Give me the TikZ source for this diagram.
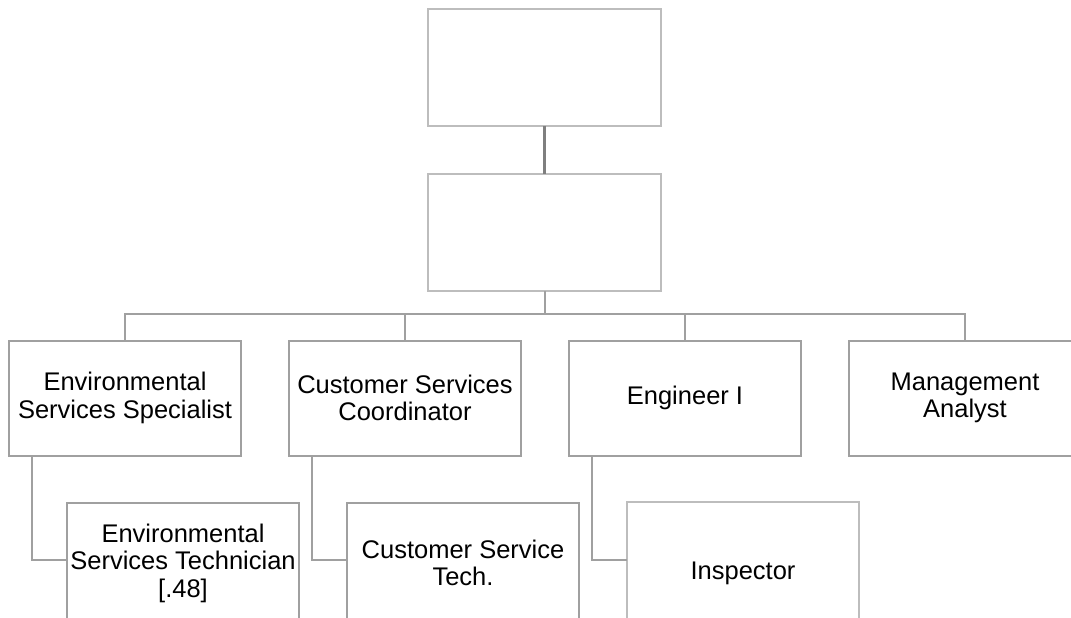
\documentclass[tikz,border=0pt]{standalone}
\usepackage{fontspec}
\setmainfont{Liberation Sans}
\usepackage{tikz}
\usetikzlibrary{positioning}
\definecolor{edge}{HTML}{A0A0A0}
\definecolor{dark}{HTML}{7F7F7F}
\definecolor{pale}{HTML}{BDBDBD}
\tikzset{
  post/.style={draw=edge, line width=2pt, fill=white, align=center, inner sep=2pt, outer sep=0pt,
    minimum width=232pt, minimum height=115pt, font=\fontsize{25.5}{27.5}\selectfont},
  link/.style={draw=edge, line width=2pt},
}
\begin{document}
\begin{tikzpicture}[x=1pt, y=-1pt, node distance=48pt]
  \clip (0,0) rectangle (1071,618);
  \fill[white] (0,0) rectangle (1071,618);
  % top two positions, no titles
  \node[post, draw=pale, line width=1.2pt, minimum width=233pt, minimum height=117pt] (head) at (544.5,67.5) {};
  \node[post, draw=pale, line width=1.2pt, minimum width=233pt, minimum height=117pt, below=of head] (chief) {};
  % second row
  \node[post] (spec) at (125,398) {Environmental\\ Services Specialist};
  \node[post] (coord) at (405,398) {Customer Services\\ Coordinator};
  \node[post] (eng) at (685,398) {Engineer I};
  \node[post] (anal) at (965,398) {Management\\ Analyst};
  % third row
  \node[post, minimum height=120pt] (tech) at (183,563) {Environmental\\ Services Technician\\ {[.48]}};
  \node[post, minimum height=120pt] (cst) at (463,563) {Customer Service\\ Tech.};
  \node[post, draw=pale, line width=1.5pt, minimum height=142pt] (insp) at (743,573) {Inspector};
  % connectors
  \draw[draw=dark, line width=3pt] (head) -- (chief);
  \coordinate (bus) at (544.5,314);
  \draw[link] (chief) -- (bus);
  \draw[link] (spec.north) |- (bus) -| (anal.north);
  \draw[link] (coord.north) -- (coord.north |- bus);
  \draw[link] (eng.north) -- (eng.north |- bus);
  \draw[link] ([xshift=23pt]spec.south west) |- ([yshift=3pt]tech.west);
  \draw[link] ([xshift=23pt]coord.south west) |- ([yshift=3pt]cst.west);
  \draw[link] ([xshift=23pt]eng.south west) |- ([yshift=3pt]tech.west -| insp.west);
\end{tikzpicture}
\end{document}
